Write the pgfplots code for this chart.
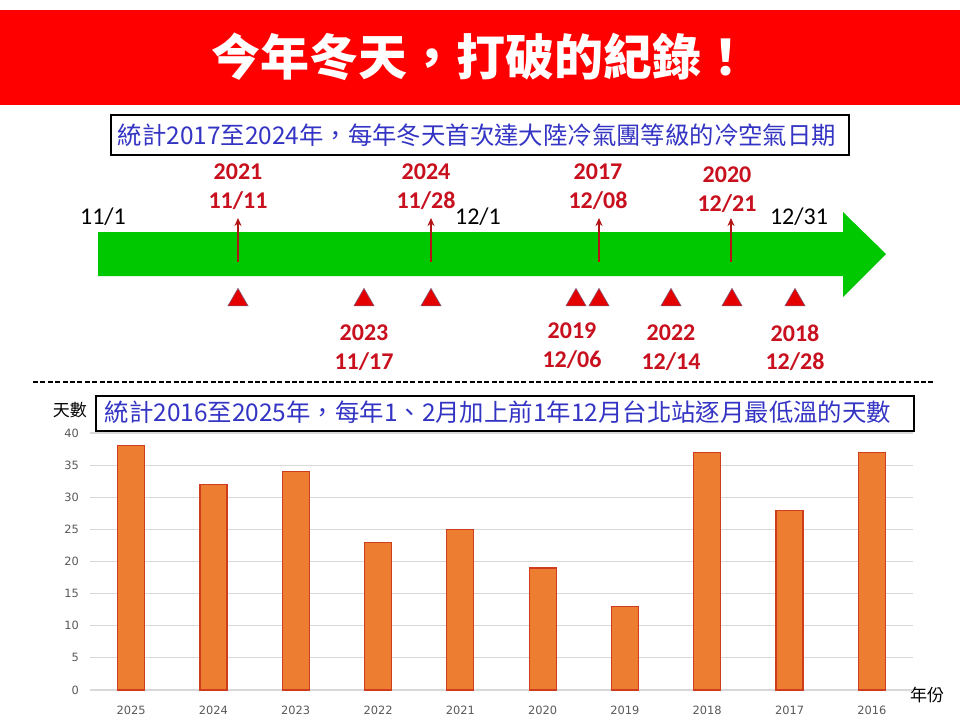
\documentclass[border=0pt]{standalone}
\usepackage{pgfplots}
\pgfplotsset{compat=1.18}
\usepackage{fontspec}
\setmainfont{Carlito}
\newfontfamily\cjk{Noto Sans CJK TC}
\newfontfamily\tickfont{DejaVu Sans}
\usetikzlibrary{arrows.meta}
\definecolor{banner}{RGB}{255,0,0}
\definecolor{txtblue}{RGB}{52,52,196}
\definecolor{lblred}{RGB}{200,16,30}
\definecolor{arrred}{RGB}{180,20,20}
\definecolor{tlgreen}{RGB}{0,200,0}
\definecolor{tri}{RGB}{228,0,0}
\definecolor{triline}{RGB}{130,90,120}
\definecolor{barfill}{RGB}{237,125,49}
\definecolor{barline}{RGB}{208,60,30}
\definecolor{tickgray}{RGB}{89,89,89}
\definecolor{gridgray}{RGB}{217,217,217}

\pgfplotstableread{
x y
238 300
364 300
431 300
576 300
599 300
671 300
732 300
795 300
}\triangles

\pgfplotstableread{
x y
238 262
431 262
599 262
731 262
}\uparrows

\pgfplotstableread{
idx days
0 38
1 32
2 34
3 23
4 25
5 19
6 13
7 37
8 28
9 37
}\bars

\begin{document}
\begin{tikzpicture}
\useasboundingbox (0,0) rectangle (480pt,360pt);
\fill[white] (0,0) rectangle (480pt,360pt);
\begin{axis}[at={(0pt,0pt)}, anchor=south west, width=480pt, height=360pt,
  scale only axis, xmin=0, xmax=960, ymin=0, ymax=720, y dir=reverse,
  hide axis, clip=false]
  % banner
  \fill[banner] (axis cs:0,10) rectangle (axis cs:960,105);
  \node[text=white, font=\cjk\bfseries\fontsize{24.5}{27}\selectfont] at (axis cs:481,57) {今年冬天，打破的紀錄！};
  % box 1
  \draw[line width=0.75pt, fill=white] (axis cs:111,115) rectangle (axis cs:849,155);
  \node[text=txtblue, font=\cjk\fontsize{12.2}{14}\selectfont] at (axis cs:477,135) {統計2017至2024年，每年冬天首次達大陸冷氣團等級的冷空氣日期};
  % green arrow
  \addplot[fill=tlgreen, draw=none] coordinates {(98,232) (843,232) (843,212) (886,254) (843,297) (843,276) (98,276)} --cycle;
  % up arrows
  \addplot[arrred, line width=0.8pt, -{Stealth[length=4pt,width=3.5pt]}, quiver={u=0, v=-44}] table[x=x, y=y] {\uparrows};
  % triangles
  \addplot[only marks, mark=triangle*, mark size=5.8pt, mark options={fill=tri, draw=triline, line width=0.3pt}] table[x=x, y=y] {\triangles};
  % month labels
  \node[font=\fontsize{12}{14}\selectfont] at (axis cs:103,217) {11/1};
  \node[font=\fontsize{12}{14}\selectfont] at (axis cs:478,217) {12/1};
  \node[font=\fontsize{12}{14}\selectfont] at (axis cs:799,217) {12/31};
  % top labels
  \node[text=lblred, font=\bfseries\fontsize{12}{14}\selectfont] at (axis cs:238,172) {2021};
  \node[text=lblred, font=\bfseries\fontsize{12}{14}\selectfont] at (axis cs:426,172) {2024};
  \node[text=lblred, font=\bfseries\fontsize{12}{14}\selectfont] at (axis cs:598,172) {2017};
  \node[text=lblred, font=\bfseries\fontsize{12}{14}\selectfont] at (axis cs:727,175) {2020};
  \node[text=lblred, font=\bfseries\fontsize{12}{14}\selectfont] at (axis cs:238,201) {11/11};
  \node[text=lblred, font=\bfseries\fontsize{12}{14}\selectfont] at (axis cs:426,201) {11/28};
  \node[text=lblred, font=\bfseries\fontsize{12}{14}\selectfont] at (axis cs:598,201) {12/08};
  \node[text=lblred, font=\bfseries\fontsize{12}{14}\selectfont] at (axis cs:727,204) {12/21};
  % bottom labels
  \node[text=lblred, font=\bfseries\fontsize{12}{14}\selectfont] at (axis cs:364,333) {2023};
  \node[text=lblred, font=\bfseries\fontsize{12}{14}\selectfont] at (axis cs:364,362) {11/17};
  \node[text=lblred, font=\bfseries\fontsize{12}{14}\selectfont] at (axis cs:572,331) {2019};
  \node[text=lblred, font=\bfseries\fontsize{12}{14}\selectfont] at (axis cs:572,360) {12/06};
  \node[text=lblred, font=\bfseries\fontsize{12}{14}\selectfont] at (axis cs:671,333) {2022};
  \node[text=lblred, font=\bfseries\fontsize{12}{14}\selectfont] at (axis cs:671,362) {12/14};
  \node[text=lblred, font=\bfseries\fontsize{12}{14}\selectfont] at (axis cs:795,333) {2018};
  \node[text=lblred, font=\bfseries\fontsize{12}{14}\selectfont] at (axis cs:795,362) {12/28};
  % dashed separator
  \draw[line width=0.75pt, dash pattern=on 2.5pt off 1.2pt] (axis cs:33,382) -- (axis cs:935,382);
  % box 2
  \draw[line width=0.75pt, fill=white] (axis cs:96,396) rectangle (axis cs:914,431);
  \node[text=txtblue, font=\cjk\fontsize{12.2}{14}\selectfont] at (axis cs:498,412) {統計2016至2025年，每年1、2月加上前1年12月台北站逐月最低溫的天數};
  \node[font=\cjk\fontsize{8.5}{10}\selectfont] at (axis cs:70,410) {天數};
  \node[font=\cjk\fontsize{8.5}{10}\selectfont] at (axis cs:927,695) {年份};
\end{axis}
\begin{axis}[at={(45pt,15pt)}, anchor=south west, width=411.5pt, height=128.5pt,
  scale only axis, ybar, bar width=13.5pt,
  xmin=-0.5, xmax=9.5, ymin=0, ymax=40, ytick={0,5,...,40},
  xtick=data, xticklabels={2025,2024,2023,2022,2021,2020,2019,2018,2017,2016},
  ymajorgrids, grid style={gridgray, line width=0.6pt},
  axis line style={draw=none}, tick style={draw=none},
  ticklabel style={font=\tickfont\fontsize{5.7}{7}\selectfont, text=tickgray},
  /pgf/number format/assume math mode=true,
  yticklabel style={xshift=-2pt}]
  \addplot[fill=barfill, draw=barline, line width=0.6pt] table[x=idx, y=days] {\bars};
\end{axis}
\end{tikzpicture}
\end{document}
